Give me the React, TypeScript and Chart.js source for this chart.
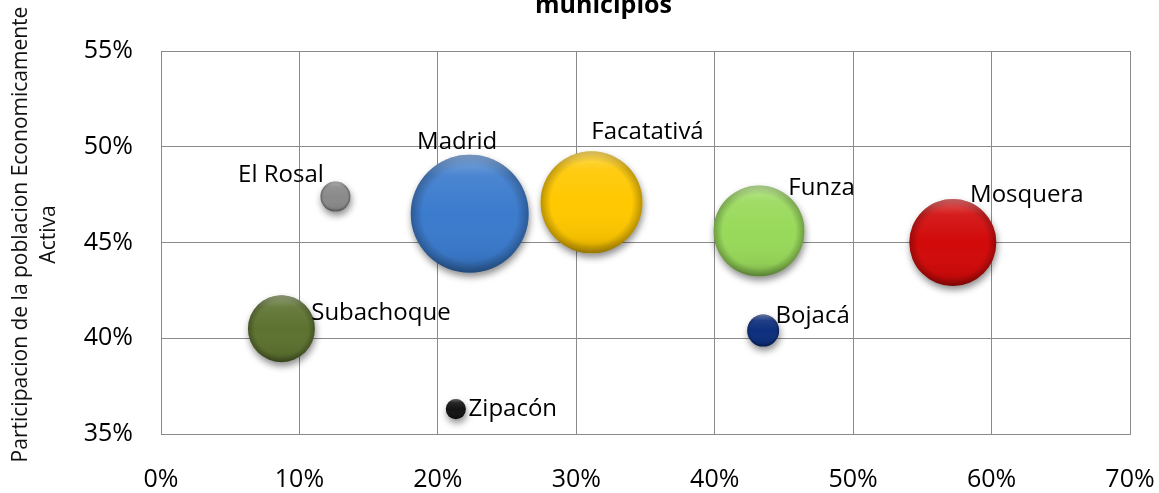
import React, { useEffect, useRef } from 'react';
import { Chart, registerables } from 'chart.js';

Chart.register(...registerables);

// ---- Data ----
const municipios = ['Subachoque', 'El Rosal', 'Zipacón', 'Madrid', 'Facatativá', 'Funza', 'Bojacá', 'Mosquera'];
const valoresX = [8.7, 12.6, 21.3, 22.3, 31.1, 43.2, 43.5, 57.2];
const participacionPEA = [40.5, 47.4, 36.3, 46.5, 47.1, 45.6, 40.4, 45.0];
const tamanoBurbuja = [32.2, 6.5, 2.9, 100, 74.7, 59.5, 7.35, 54.4];
const xTickValues = [0, 10, 20, 30, 40, 50, 60, 70];
const yTickValues = [35, 40, 45, 50, 55];
const tituloGrafico = 'municipios';
const tituloEjeY = ['Participacion de la poblacion Economicamente', 'Activa'];

// ---- Styles ----
const colores = ['#5d7230', '#8a8a8a', '#141414', '#3b7bcd', '#ffc800', '#98d95a', '#0e2f7d', '#d20a0a'];
const labelOffsets = [
  [99.5, -8.5],
  [-54.5, -15],
  [57, 6.5],
  [-12.5, -65],
  [56, -63],
  [62.5, -36.5],
  [49.5, -8],
  [74, -41],
];
const MAX_RADIUS = 59;
const GRID = '#8a8a8a';
const FONT = "'Open Sans', sans-serif";

export default function App() {
  const ref = useRef<HTMLCanvasElement>(null);

  useEffect(() => {
    if (!ref.current) return;
    const maxSize = Math.max(...tamanoBurbuja);
    const points = municipios.map((_, i) => ({
      x: valoresX[i],
      y: participacionPEA[i],
      r: MAX_RADIUS * Math.sqrt(tamanoBurbuja[i] / maxSize),
    }));

    const decor = {
      id: 'decor',
      beforeDatasetDraw(chart: any) {
        const ctx = chart.ctx;
        ctx.shadowColor = 'rgba(0,0,0,0.45)';
        ctx.shadowBlur = 7;
        ctx.shadowOffsetX = 1;
        ctx.shadowOffsetY = 4;
      },
      afterDatasetDraw(chart: any, args: any) {
        const ctx = chart.ctx;
        ctx.shadowColor = 'rgba(0,0,0,0)';
        ctx.shadowBlur = 0;
        ctx.shadowOffsetX = 0;
        ctx.shadowOffsetY = 0;
        const meta = args.meta;
        meta.data.forEach((el: any) => {
          const r = el.options.radius;
          const { x, y } = el;
          ctx.save();
          ctx.beginPath();
          ctx.arc(x, y, r, 0, Math.PI * 2);
          ctx.clip();
          const rg = ctx.createRadialGradient(x, y, 0, x, y, r);
          rg.addColorStop(0, 'rgba(0,0,0,0)');
          rg.addColorStop(0.8, 'rgba(0,0,0,0)');
          rg.addColorStop(1, 'rgba(0,0,0,0.28)');
          ctx.fillStyle = rg;
          ctx.fillRect(x - r, y - r, 2 * r, 2 * r);
          const lg = ctx.createLinearGradient(x, y - r, x, y + r);
          lg.addColorStop(0, 'rgba(255,255,255,0.35)');
          lg.addColorStop(0.18, 'rgba(255,255,255,0.08)');
          lg.addColorStop(0.5, 'rgba(255,255,255,0)');
          lg.addColorStop(0.85, 'rgba(0,0,0,0.05)');
          lg.addColorStop(1, 'rgba(0,0,0,0.2)');
          ctx.fillStyle = lg;
          ctx.fillRect(x - r, y - r, 2 * r, 2 * r);
          ctx.restore();
        });
      },
      afterDraw(chart: any) {
        const ctx = chart.ctx;
        const meta = chart.getDatasetMeta(0);
        const ca = chart.chartArea;
        ctx.save();
        ctx.fillStyle = '#000';
        ctx.textAlign = 'center';
        ctx.textBaseline = 'alphabetic';
        ctx.font = `24px ${FONT}`;
        meta.data.forEach((el: any, i: number) => {
          const [dx, dy] = labelOffsets[i];
          ctx.fillText(municipios[i], el.x + dx, el.y + dy);
        });
        // chart title (top line cut off as in the reference)
        ctx.font = `bold 25px ${FONT}`;
        ctx.fillText(tituloGrafico, (ca.left + ca.right) / 2 - 42, 13);
        // y-axis title, rotated
        ctx.font = `21px ${FONT}`;
        ctx.fillStyle = '#111';
        ctx.translate(0, (ca.top + ca.bottom) / 2 - 8);
        ctx.rotate(-Math.PI / 2);
        tituloEjeY.forEach((line, i) => {
          ctx.fillText(line, 0, 27 + i * 28);
        });
        ctx.restore();
      },
    };

    const chart = new Chart(ref.current, {
      type: 'bubble',
      data: {
        datasets: [
          {
            label: 'Municipios',
            data: points,
            backgroundColor: colores,
            borderWidth: 0,
            hoverBorderWidth: 0,
            clip: false,
          },
        ],
      },
      options: {
        animation: false,
        responsive: true,
        maintainAspectRatio: false,
        layout: { autoPadding: false, padding: { top: 51, right: 29, bottom: 0, left: 0 } },
        plugins: {
          legend: { display: false },
          tooltip: { enabled: false },
          title: { display: false },
        },
        scales: {
          x: {
            type: 'linear',
            min: 0,
            max: 70,
            afterBuildTicks: (scale: any) => {
              scale.ticks = xTickValues.map((v) => ({ value: v }));
            },
            afterFit: (scale: any) => {
              scale.height = 59;
            },
            ticks: {
              padding: 0,
              color: '#000',
              font: { family: FONT, size: 25 },
              callback: (v: any) => `${v}%`,
              maxRotation: 0,
            },
            grid: { color: GRID, lineWidth: 1, drawTicks: true, tickLength: 31, tickColor: 'rgba(0,0,0,0)' },
            border: { display: true, color: GRID, width: 1 },
          },
          y: {
            type: 'linear',
            min: 35,
            max: 55,
            afterBuildTicks: (scale: any) => {
              scale.ticks = yTickValues.map((v) => ({ value: v }));
            },
            afterFit: (scale: any) => {
              scale.width = 161;
            },
            ticks: {
              padding: 0,
              color: '#000',
              font: { family: FONT, size: 25 },
              callback: (v: any) => `${v}%`,
            },
            grid: { color: GRID, lineWidth: 1, drawTicks: true, tickLength: 28, tickColor: 'rgba(0,0,0,0)' },
            border: { display: true, color: GRID, width: 1 },
          },
        },
      },
      plugins: [decor],
    });

    return () => chart.destroy();
  }, []);

  return (
    <div style={{ position: 'absolute', left: 0, top: 0, width: 1159, height: 493, background: '#fff' }}>
      <canvas ref={ref} />
    </div>
  );
}
